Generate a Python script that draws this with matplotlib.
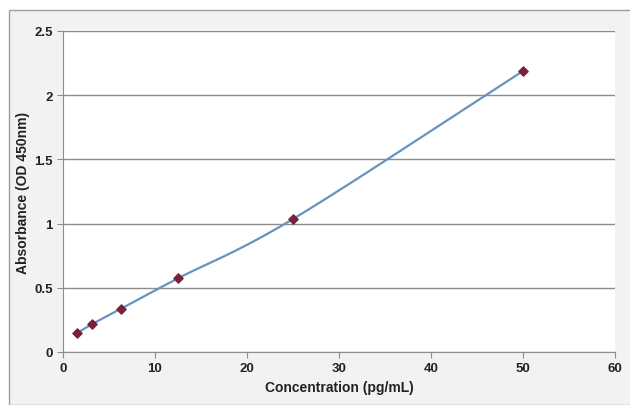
import matplotlib.pyplot as plt
import numpy as np
from matplotlib.patches import Rectangle

conc = np.array([1.5625, 3.125, 6.25, 12.5, 25, 50], dtype=float)  # pg/mL
od = np.array([0.150, 0.216, 0.335, 0.574, 1.036, 2.188], dtype=float)  # OD 450nm

x_ticks = [0, 10, 20, 30, 40, 50, 60]
y_ticks = [0, 0.5, 1, 1.5, 2, 2.5]
y_tick_labels = ['0', '0.5', '1', '1.5', '2', '2.5']


def smooth(xp, yp, n=40):
    """Curva Catmull-Rom que pasa por los puntos (como la línea suavizada de Excel)."""
    px = np.concatenate([[2*xp[0] - xp[1]], xp, [2*xp[-1] - xp[-2]]])
    py = np.concatenate([[2*yp[0] - yp[1]], yp, [2*yp[-1] - yp[-2]]])
    xs, ys = [], []
    t = np.linspace(0, 1, n)
    for i in range(1, len(px) - 2):
        for p, out in ((px, xs), (py, ys)):
            p0, p1, p2, p3 = p[i-1], p[i], p[i+1], p[i+2]
            out.extend(0.5*((2*p1) + (-p0 + p2)*t + (2*p0 - 5*p1 + 4*p2 - p3)*t**2
                            + (-p0 + 3*p1 - 3*p2 + p3)*t**3))
    return np.array(xs), np.array(ys)


plt.rcParams['font.family'] = ['Liberation Sans', 'DejaVu Sans']

fig = plt.figure(figsize=(6.3, 4.06), dpi=100, facecolor='white')
fig.patches.append(Rectangle((9/630, 0.5/406), 0.99, (406-11)/406, transform=fig.transFigure,
                             facecolor='#f2f2f2', edgecolor='#a0a0a0', linewidth=1.0, zorder=-1))

ax = fig.add_axes([63/630, 53/406, 552/630, 321/406])
ax.set_facecolor('white')

sx, sy = smooth(conc, od)
ax.plot(sx, sy, color='#6494bf', linewidth=1.6, zorder=2)
ax.scatter(conc, od, marker='D', s=22, color='#7a1f3d', zorder=3)

ax.set_xlim(0, 60)
ax.set_ylim(0, 2.5)
ax.set_xticks(x_ticks)
ax.set_yticks(y_ticks)
ax.set_yticklabels(y_tick_labels)
ax.grid(axis='y', color='#8c8c8c', linewidth=1.0)
ax.set_axisbelow(True)
for s in ['top', 'right']:
    ax.spines[s].set_visible(False)
for s in ['left', 'bottom']:
    ax.spines[s].set_color('#8c8c8c')
ax.tick_params(colors='#8c8c8c', length=4, labelcolor='#222222', labelsize=9.5)
for lab in ax.get_xticklabels() + ax.get_yticklabels():
    lab.set_fontweight('bold')

ax.set_xlabel('Concentration (pg/mL)', fontsize=10, fontweight='bold', color='#222222', labelpad=4)
ax.set_ylabel('Absorbance (OD 450nm)', fontsize=10, fontweight='bold', color='#222222', labelpad=3)

plt.savefig('out.png', dpi=100, facecolor=fig.get_facecolor())
